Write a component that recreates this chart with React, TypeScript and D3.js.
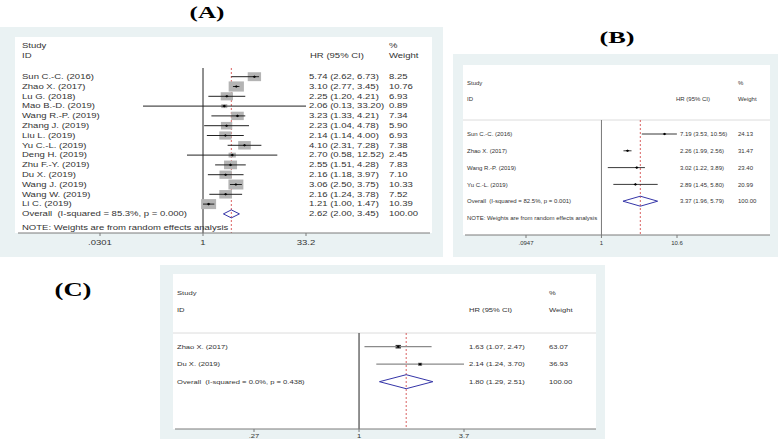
import * as d3 from "d3";
import React from "react";

// (A) all studies
const A_STUDIES = [
  "Sun C.-C. (2016)",
  "Zhao X. (2017)",
  "Lu G. (2018)",
  "Mao B.-D. (2019)",
  "Wang R.-P. (2019)",
  "Zhang J. (2019)",
  "Liu L. (2019)",
  "Yu C.-L. (2019)",
  "Deng H. (2019)",
  "Zhu F.-Y. (2019)",
  "Du X. (2019)",
  "Wang J. (2019)",
  "Wang W. (2019)",
  "Li C. (2019)",
];
const A_HR = [5.74, 3.1, 2.25, 2.06, 3.23, 2.23, 2.14, 4.1, 2.7, 2.55, 2.16, 3.06, 2.16, 1.21];
const A_LO = [2.62, 2.77, 1.2, 0.13, 1.33, 1.04, 1.14, 2.31, 0.58, 1.51, 1.18, 2.5, 1.24, 1.0];
const A_HI = [6.73, 3.45, 4.21, 33.2, 4.21, 4.78, 4.0, 7.28, 12.52, 4.28, 3.97, 3.75, 3.78, 1.47];
const A_WEIGHT = [8.25, 10.76, 6.93, 0.89, 7.34, 5.9, 6.93, 7.38, 2.45, 7.83, 7.1, 10.33, 7.52, 10.39];
const A_OVERALL = [2.62, 2.0, 3.45];
const A_HET = "Overall  (I-squared = 85.3%, p = 0.000)";
const A_TICKS = [0.0301, 1, 33.2];
const A_TICK_LABELS = [".0301", "1", "33.2"];

// (B)
const B_STUDIES = ["Sun C.-C. (2016)", "Zhao X. (2017)", "Wang R.-P. (2019)", "Yu C.-L. (2019)"];
const B_HR = [7.19, 2.26, 3.02, 2.89];
const B_LO = [3.53, 1.99, 1.22, 1.45];
const B_HI = [10.56, 2.56, 3.89, 5.8];
const B_WEIGHT = [24.13, 31.47, 23.4, 20.99];
const B_OVERALL = [3.37, 1.96, 5.79];
const B_HET = "Overall  (I-squared = 82.5%, p = 0.001)";
const B_TICKS = [0.0947, 1, 10.6];
const B_TICK_LABELS = [".0947", "1", "10.6"];

// (C)
const C_STUDIES = ["Zhao X. (2017)", "Du X. (2019)"];
const C_HR = [1.63, 2.14];
const C_LO = [1.07, 1.24];
const C_HI = [2.47, 3.7];
const C_WEIGHT = [63.07, 36.93];
const C_OVERALL = [1.8, 1.29, 2.51];
const C_HET = "Overall  (I-squared = 0.0%, p = 0.438)";
const C_TICKS = [0.27, 1, 3.7];
const C_TICK_LABELS = [".27", "1", "3.7"];

const NOTE = "NOTE: Weights are from random effects analysis";
const BG = "#eaf2f3";
const SANS = "'Liberation Sans', Arial, sans-serif";
const f2 = d3.format(".2f");

function T({ x, y, sx = 1, size, anchor = "start", fill = "#333", weight = "normal", family = SANS, children }: any) {
  return (
    <text
      transform={`translate(${x},${y}) scale(${sx},1)`}
      dy="0.35em"
      fontSize={size}
      fontFamily={family}
      fontWeight={weight}
      textAnchor={anchor}
      fill={fill}
      style={{ whiteSpace: "pre" }}
    >
      {children}
    </text>
  );
}

function Forest(p: any) {
  const x = d3.scaleLog().domain([p.ticks[0], p.ticks[2]]).range(p.xr);
  const y = d3.scaleLinear().domain([0, 1]).range([p.row0, p.row0 + p.step]);
  const n = p.studies.length;
  const [oHr, oLo, oHi] = p.overall;
  const yo = y(n);
  const fs = p.fs;
  const sx = p.sx;
  const [ox, oy, ow, oh] = p.outer;
  const [ix, iy, iw, ih] = p.inner;

  return (
    <g>
      <rect x={ox} y={oy} width={ow} height={oh} fill={BG} />
      <rect x={ix} y={iy} width={iw} height={ih} fill="#fff" />
      <T x={p.title.x} y={p.title.y} sx={p.title.sx} size={p.title.size} anchor="middle" fill="#000"
        weight="bold" family="'Liberation Serif', 'Times New Roman', serif">{p.title.text}</T>

      {/* header */}
      <T x={p.labelX} y={p.head1} size={fs} sx={sx}>Study</T>
      <T x={p.labelX} y={p.head2} size={fs} sx={sx}>ID</T>
      <T x={p.hrHeadX} y={p.head2} size={fs} sx={sx}>HR (95% CI)</T>
      <T x={p.wX} y={p.head1} size={fs} sx={sx}>%</T>
      <T x={p.wX} y={p.head2} size={fs} sx={sx}>Weight</T>
      {p.sepY != null && (
        <line x1={ix} x2={ix + iw} y1={p.sepY} y2={p.sepY} stroke="#dcdcdc" strokeWidth={1} />
      )}

      {/* null line and overall line */}
      <line x1={x(1)} x2={x(1)} y1={p.nullTop} y2={p.axisY} stroke={p.nullColor} strokeWidth={p.nullWidth} />
      <line x1={x(oHr)} x2={x(oHr)} y1={p.nullTop} y2={p.axisY} stroke="#d03a3a" strokeWidth={0.8} strokeDasharray="2,2" />

      {/* studies */}
      {p.studies.map((s: string, i: number) => {
        const yc = y(i);
        const bh = p.boxK ? Math.max(p.boxMin, p.boxK * Math.sqrt(p.weight[i])) : 0;
        const bw = bh * p.boxAspect;
        const xc = x(p.hr[i]);
        return (
          <g key={s}>
            {bh > 0 && <rect x={xc - bw / 2} y={yc - bh / 2} width={bw} height={bh} fill={p.boxColor} />}
            <line x1={x(p.lo[i])} x2={x(p.hi[i])} y1={yc} y2={yc} stroke={p.ciColor} strokeWidth={p.ciWidth} />
            <path
              d={`M${xc - p.mk * 1.4},${yc}L${xc},${yc - p.mk}L${xc + p.mk * 1.4},${yc}L${xc},${yc + p.mk}Z`}
              fill="#000"
            />
            <T x={p.labelX} y={yc} size={fs} sx={sx}>{s}</T>
            <T x={p.hrX} y={yc} size={fs} sx={sx}>{`${f2(p.hr[i])} (${f2(p.lo[i])}, ${f2(p.hi[i])})`}</T>
            <T x={p.wX} y={yc} size={fs} sx={sx}>{f2(p.weight[i])}</T>
          </g>
        );
      })}

      {/* overall */}
      <path
        d={`M${x(oLo)},${yo}L${x(oHr)},${yo - p.dh / 2}L${x(oHi)},${yo}L${x(oHr)},${yo + p.dh / 2}Z`}
        fill="none"
        stroke="#3535a8"
        strokeWidth={1}
      />
      <T x={p.labelX} y={yo} size={fs} sx={sx}>{p.het}</T>
      <T x={p.hrX} y={yo} size={fs} sx={sx}>{`${f2(oHr)} (${f2(oLo)}, ${f2(oHi)})`}</T>
      <T x={p.wX} y={yo} size={fs} sx={sx}>{f2(100)}</T>
      {p.noteY != null && <T x={p.labelX} y={p.noteY} size={fs} sx={sx}>{NOTE}</T>}

      {/* axis */}
      <line x1={p.axisX[0]} x2={p.axisX[1]} y1={p.axisY} y2={p.axisY} stroke="#7a7a7a" strokeWidth={1} />
      {p.ticks.map((t: number, i: number) => (
        <g key={t}>
          <line x1={x(t)} x2={x(t)} y1={p.axisY} y2={p.axisY + 3} stroke="#7a7a7a" strokeWidth={1} />
          <T x={x(t)} y={p.tickY} size={fs} sx={sx} anchor="middle">{p.tickLabels[i]}</T>
        </g>
      ))}
    </g>
  );
}

export default function App() {
  return (
    <svg width={778} height={439} style={{ position: "absolute", left: 0, top: 0, background: "#fff" }}>
      <Forest
        studies={A_STUDIES} hr={A_HR} lo={A_LO} hi={A_HI} weight={A_WEIGHT}
        overall={A_OVERALL} het={A_HET} ticks={A_TICKS} tickLabels={A_TICK_LABELS}
        title={{ text: "(A)", x: 207, y: 12, size: 17, sx: 1.48 }}
        outer={[0, 27, 443, 230]} inner={[15, 37, 417, 196]}
        xr={[100, 306]} row0={76.7} step={9.8} fs={6.8} sx={1.4}
        labelX={22} hrHeadX={310} hrX={309} wX={389} head1={46} head2={56}
        nullTop={68} axisY={233} axisX={[18, 430]} noteY={228} tickY={243}
        nullColor="#555" nullWidth={1.3}
        boxK={3.1} boxMin={4} boxAspect={1.5} boxColor="#b4b4b4"
        ciColor="#222" ciWidth={1} mk={1.3} dh={8}
      />
      <Forest
        studies={B_STUDIES} hr={B_HR} lo={B_LO} hi={B_HI} weight={B_WEIGHT}
        overall={B_OVERALL} het={B_HET} ticks={B_TICKS} tickLabels={B_TICK_LABELS}
        title={{ text: "(B)", x: 617, y: 37, size: 17, sx: 1.55 }}
        outer={[453, 54, 325, 203]} inner={[463, 65, 307, 170]}
        xr={[526, 677]} row0={134} step={16.8} fs={6} sx={1}
        labelX={467} hrHeadX={676} hrX={680} wX={738} head1={83} head2={99} sepY={120}
        nullTop={120} axisY={235} axisX={[465, 770]} noteY={217.7} tickY={243}
        nullColor="#777" nullWidth={1}
        boxK={0} boxMin={0} boxAspect={1} boxColor="#b4b4b4"
        ciColor="#222" ciWidth={0.9} mk={1.3} dh={10}
      />
      <Forest
        studies={C_STUDIES} hr={C_HR} lo={C_LO} hi={C_HI} weight={C_WEIGHT}
        overall={C_OVERALL} het={C_HET} ticks={C_TICKS} tickLabels={C_TICK_LABELS}
        title={{ text: "(C)", x: 73, y: 290, size: 18, sx: 1.48 }}
        outer={[160, 265, 445, 174]} inner={[173, 274, 423, 155]}
        xr={[254, 464]} row0={346.7} step={17.5} fs={6} sx={1.27}
        labelX={177} hrHeadX={469} hrX={469} wX={549} head1={292.5} head2={310} sepY={333}
        nullTop={333} axisY={429} axisX={[175, 596]} tickY={436}
        nullColor="#555" nullWidth={1.3}
        boxK={0.45} boxMin={2} boxAspect={1.5} boxColor="#333"
        ciColor="#8a8a8a" ciWidth={1.3} mk={1.2} dh={14}
      />
    </svg>
  );
}
